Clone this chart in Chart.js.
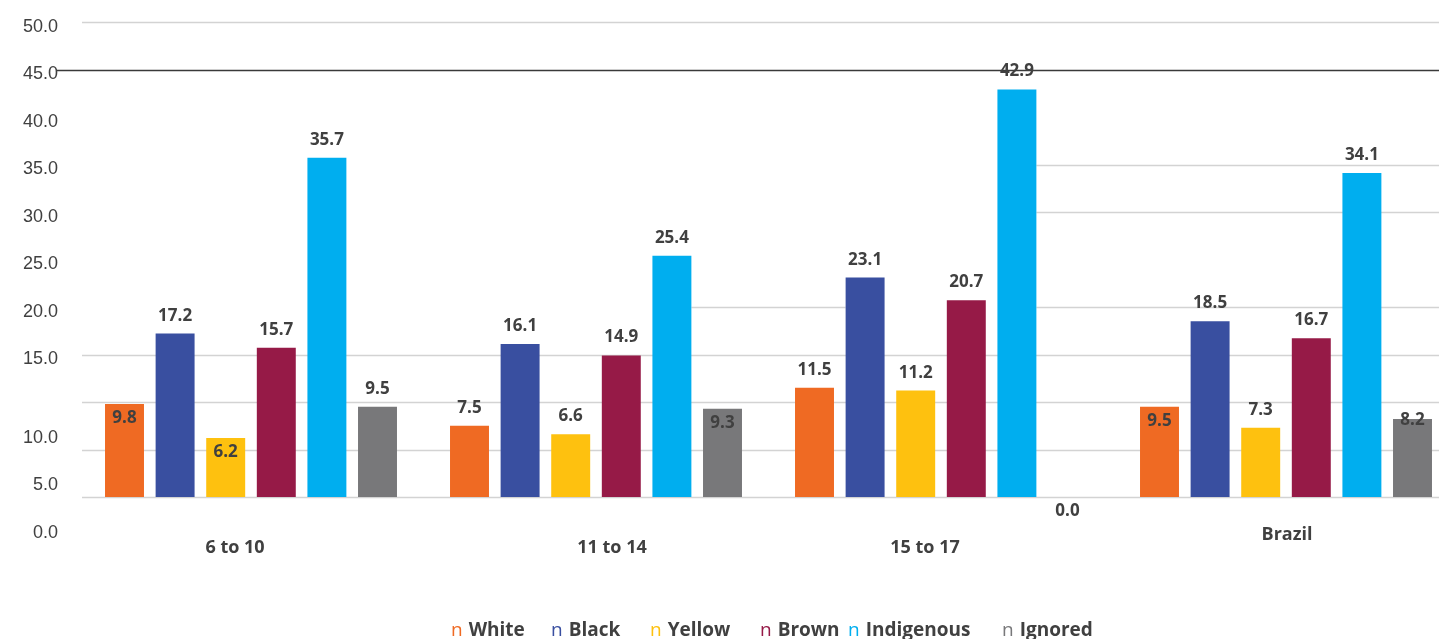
<!DOCTYPE html>
<html>
<head>
<meta charset="utf-8">
<script src="https://cdn.jsdelivr.net/npm/chart.js@4/dist/chart.umd.min.js"></script>
<style>
    html, body {
        margin: 0;
        padding: 0;
        width: 1439px;
        height: 639px;
        overflow: hidden;
        background: #ffffff;
    }
    #wrap {
        position: relative;
        width: 1460px;
        height: 639px;
    }
    #legend .item {
        position: absolute;
        top: 617px;
        white-space: nowrap;
        font-family: 'Open Sans', sans-serif;
        font-size: 19px;
        line-height: 24px;
        color: #404040;
    }
    #legend .mark {
        font-weight: 400;
        margin-right: 6px;
    }
    #legend .name {
        font-weight: 700;
    }
</style>
</head>
<body>
<div id="wrap">
    <canvas id="myChart" width="1460" height="639"></canvas>
    <div id="legend"></div>
</div>
<script>
const categories = ['6 to 10', '11 to 14', '15 to 17', 'Brazil'];
const seriesNames = ['White', 'Black', 'Yellow', 'Brown', 'Indigenous', 'Ignored'];
const white = [9.8, 7.5, 11.5, 9.5];
const black = [17.2, 16.1, 23.1, 18.5];
const yellow = [6.2, 6.6, 11.2, 7.3];
const brown = [15.7, 14.9, 20.7, 16.7];
const indigenous = [35.7, 25.4, 42.9, 34.1];
const ignored = [9.5, 9.3, 0.0, 8.2];
const yTicks = [0, 5, 10, 15, 20, 25, 30, 35, 40, 45, 50];

const colors = ['#EF6A23', '#394FA0', '#FEC10F', '#961A47', '#00AEEF', '#78787A'];
const textColor = '#404040';

// labels drawn inside the bar top (or under the baseline for zero)
const labelInside = ['0-0', '2-0', '5-1', '5-2', '0-3'];
const labelOnEdge = ['5-3'];
const xLabelShift = [-16, 16, -16, 1];
const xLabelBaseline = [553, 553, 553, 540];

const allSeries = [white, black, yellow, brown, indigenous, ignored];

function hline(ctx, x1, x2, y) {
    ctx.beginPath();
    ctx.moveTo(x1, y);
    ctx.lineTo(x2, y);
    ctx.stroke();
}

const gridPlugin = {
    id: 'gridLines',
    beforeDatasetsDraw(chart) {
        const ctx = chart.ctx;
        const y = chart.scales.y;
        const w = chart.width;
        const edge = (ds, i, side) => {
            const b = chart.getDatasetMeta(ds).data[i];
            return b.x + side * b.width / 2;
        };
        ctx.save();
        ctx.strokeStyle = '#d3d3d3';
        ctx.lineWidth = 1.5;
        [50, 15, 10, 5, 0].forEach(v => hline(ctx, 82, w, Math.round(y.getPixelForValue(v)) + 0.5));
        // the faint lines only show in some gaps
        const from = edge(4, 2, 1);
        [35, 30, 20].forEach(v => hline(ctx, from, w, Math.round(y.getPixelForValue(v)) + 0.5));
        hline(ctx, edge(4, 1, 1), edge(1, 2, -1), Math.round(y.getPixelForValue(20)) + 0.5);
        ctx.strokeStyle = '#3a3a3a';
        ctx.lineWidth = 1.3;
        hline(ctx, 57, w, Math.round(y.getPixelForValue(45)) + 0.5);
        ctx.restore();
    }
};

const textPlugin = {
    id: 'texts',
    afterDatasetsDraw(chart) {
        const ctx = chart.ctx;
        const x = chart.scales.x;
        const y = chart.scales.y;
        ctx.save();
        ctx.fillStyle = textColor;
        ctx.textAlign = 'center';
        ctx.textBaseline = 'alphabetic';

        // value labels
        ctx.font = 'bold 17px "Open Sans"';
        chart.data.datasets.forEach((ds, d) => {
            chart.getDatasetMeta(d).data.forEach((bar, i) => {
                const key = d + '-' + i;
                let by = bar.y - 13;
                if (labelInside.includes(key)) by = bar.y + 19;
                if (labelOnEdge.includes(key)) by = bar.y + 6;
                ctx.fillText(ds.data[i].toFixed(1), bar.x, by);
            });
        });

        // category labels
        ctx.font = 'bold 18px "Open Sans"';
        categories.forEach((c, i) => {
            ctx.fillText(c, x.getPixelForValue(i) + xLabelShift[i], xLabelBaseline[i]);
        });

        // y axis labels
        ctx.font = '18px "Liberation Sans", Arial, sans-serif';
        ctx.textAlign = 'right';
        yTicks.forEach(v => {
            const shift = v <= 10 ? 34 : 3;
            ctx.fillText(v.toFixed(1), 58, y.getPixelForValue(v) + shift + 6.5);
        });
        ctx.restore();
    }
};

const ctx = document.getElementById('myChart').getContext('2d');
const myChart = new Chart(ctx, {
    type: 'bar',
    data: {
        labels: categories,
        datasets: allSeries.map((values, i) => ({
            label: seriesNames[i],
            data: values,
            backgroundColor: colors[i],
            borderWidth: 0,
            categoryPercentage: 0.88,
            barPercentage: 0.77
        }))
    },
    options: {
        responsive: false,
        animation: false,
        devicePixelRatio: 1,
        layout: {
            padding: { left: 78.5, right: 1.5, top: 22, bottom: 142 }
        },
        plugins: {
            legend: { display: false },
            tooltip: { enabled: false }
        },
        scales: {
            x: { display: false },
            y: { display: false, min: 0, max: 50 }
        }
    },
    plugins: [gridPlugin, textPlugin]
});

// legend under the chart
const legendLeft = [451, 551, 650, 760, 848, 1002];
const legend = document.getElementById('legend');
seriesNames.forEach((name, i) => {
    const item = document.createElement('div');
    item.className = 'item';
    item.style.left = legendLeft[i] + 'px';
    item.innerHTML = '<span class="mark" style="color:' + colors[i] + '">n</span><span class="name">' + name + '</span>';
    legend.appendChild(item);
});
</script>
</body>
</html>
